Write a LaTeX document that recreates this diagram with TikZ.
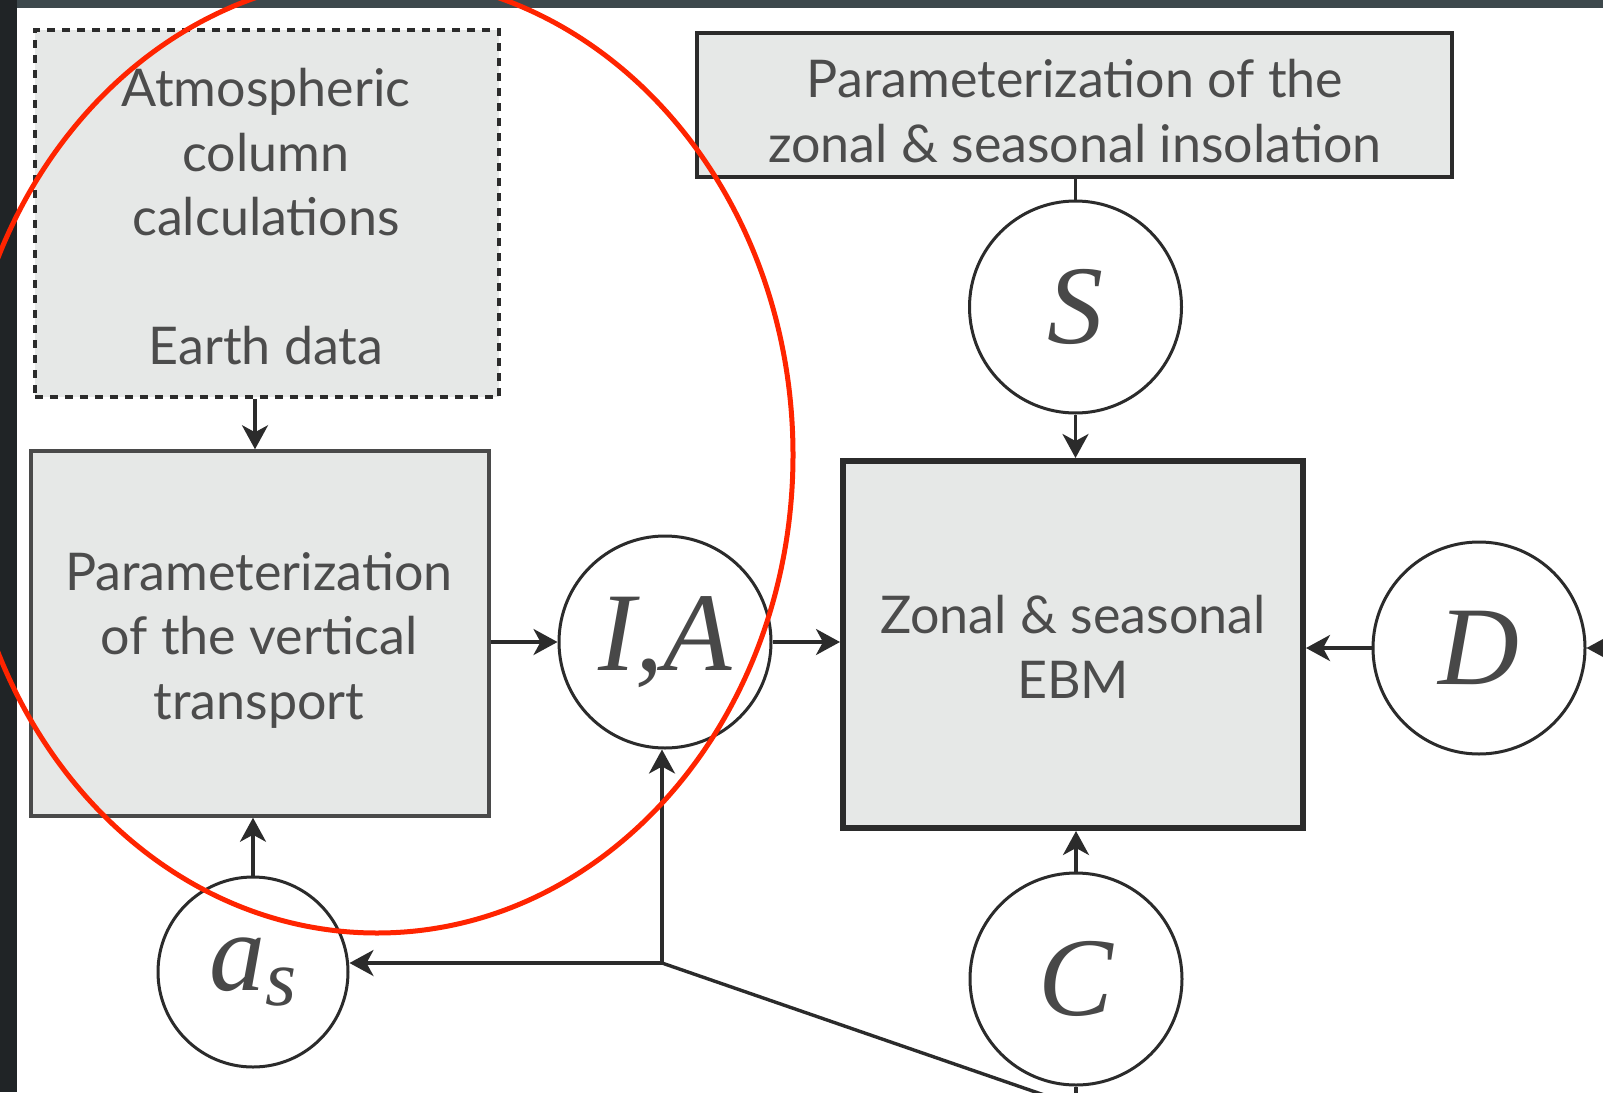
\documentclass[tikz,border=0pt]{standalone}
\usepackage{fontspec}
\setmainfont{Lato}
\newfontfamily\varfont{Liberation Serif}
\usetikzlibrary{arrows.meta}
\definecolor{boxfill}{HTML}{E6E8E7}
\definecolor{ink}{HTML}{2B2B2B}
\definecolor{boxline}{HTML}{4A4A4A}
\definecolor{txt}{HTML}{4C4C4C}
\definecolor{vartxt}{HTML}{484848}
\definecolor{marker}{HTML}{FF2400}
\definecolor{frameleft}{HTML}{202426}
\definecolor{frametop}{HTML}{3D484C}

\begin{document}
\begin{tikzpicture}[x=1pt,y=-1pt,
  procbox/.style={rectangle, fill=boxfill, draw=boxline, line width=3.5pt,
    inner sep=0pt},
  databox/.style={procbox, draw=ink, dash pattern=on 8pt off 7pt},
  mainbox/.style={procbox, draw=ink, line width=6pt},
  boxtext/.style={align=center, text=txt, inner sep=0pt,
    font=\fontsize{52}{64.5}\selectfont},
  var/.style={circle, draw=ink, line width=3pt, fill=white,
    minimum size=212pt, inner sep=0pt, text=vartxt,
    font=\varfont\itshape\fontsize{112}{112}\selectfont},
  link/.style={draw=ink, line width=3.4pt},
  arr/.style={link, -{Stealth[length=24pt,width=26pt,inset=7pt]}},
  ring/.style={draw=marker, line width=5pt}]

\useasboundingbox (0,0) rectangle (1603,1092);
\begin{scope}
\clip (0,0) rectangle (1603,1092);
\fill[white] (0,0) rectangle (1603,1092);
\fill[frametop] (0,0) rectangle (1603,8);
\fill[frameleft] (0,0) rectangle (17,1092);

% input and parameterization boxes
\node[databox, minimum width=464pt, minimum height=367pt] (atmo) at (267,213.5) {};
\node[boxtext] (atmotext) at (266,217)
  {Atmospheric\\column\\calculations\\[64.5pt]Earth data};
\node[procbox, minimum width=458pt, minimum height=365pt] (vert) at (260,633.5) {};
\node[boxtext] (verttext) at (259,640)
  {Parameterization\\of the vertical\\transport};
\node[procbox, draw=ink, line width=4pt, minimum width=755pt, minimum height=144pt] (insol) at (1074.5,105) {};
\node[boxtext] (insoltext) at (1075,111)
  {Parameterization of the\\zonal \& seasonal insolation};
\node[mainbox, minimum width=460pt, minimum height=367pt] (ebm) at (1073,644.5) {};
\node[boxtext] (ebmtext) at (1073,647)
  {Zonal \& seasonal\\EBM};

% model variables
\node[var] (IA) at (665,642) {I,A};
\node[var] (S) at (1075.5,307) {S};
\node[var] (D) at (1479,648) {D};
\node[var] (C) at (1076,979) {C};
\node[var, minimum size=190pt] (as) at (253,972)
  {a\raisebox{-15pt}{\fontsize{80}{80}\selectfont s}};

% free ends and junctions
\coordinate (j) at (662,963);
\coordinate (dsrc) at (1650,648);
\coordinate (below) at (1076,1106);

% connectors
\draw[arr] (atmo.south -| 255,0) -- (vert.north -| 255,0);
\draw[arr] (as) -- (vert.south -| as);
\draw[arr] (vert.east |- IA) -- (IA);
\draw[arr] (IA) -- (IA -| ebm.west);
\draw[link] (insol.south -| S) -- (S);
\draw[arr] (S) -- (S |- ebm.north);
\draw[arr] (D) -- (D -| ebm.east);
\draw[arr] (dsrc) -- (D);
\draw[arr] (C) -- (C |- ebm.south);
\draw[link] (C) -- (below);
\draw[arr] (j) -- (j |- IA.south);
\draw[arr] (j) -- (as.east |- j);
\draw[link] (j) -- (below);

% hand-drawn highlight
\draw[ring] (377,455) ellipse [x radius=416, y radius=478];
\end{scope}
\end{tikzpicture}
\end{document}
